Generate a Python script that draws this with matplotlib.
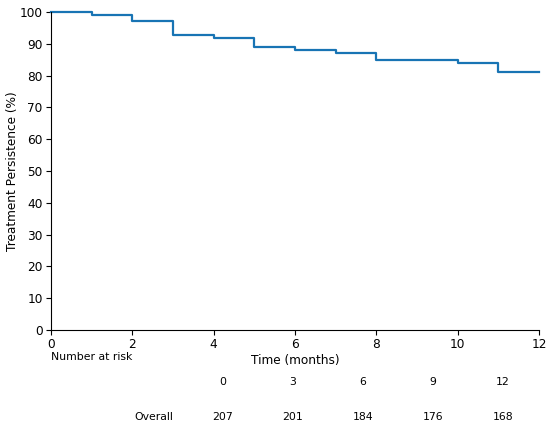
import matplotlib
matplotlib.use("Agg")
import matplotlib.pyplot as plt

# Kaplan-Meier step data
months = [0, 1, 2, 3, 4, 5, 6, 7, 8, 10, 11, 12]
persistence = [100, 99.2, 97.2, 92.9, 91.9, 88.9, 88.1, 87.1, 85.0, 84.0, 81.1, 81.1]

# number-at-risk table
risk_times = ["0", "3", "6", "9", "12"]
risk_overall = [207, 201, 184, 176, 168]
risk_label = "Overall"

fig = plt.figure(figsize=(5.5, 4.3), dpi=100)
ax = fig.add_axes([51 / 550, 1 - 330 / 430, (539 - 51) / 550, (330 - 12) / 430])

ax.plot(months, persistence, drawstyle="steps-post", color="#1874b4", lw=1.6, clip_on=False)

ax.set_xlim(0, 12)
ax.set_ylim(0, 100)
ax.set_xticks(range(0, 13, 2))
ax.set_yticks(range(0, 101, 10))
ax.spines["top"].set_visible(False)
ax.spines["right"].set_visible(False)
ax.tick_params(labelsize=8.7, pad=2.5)
ax.set_ylabel("Treatment Persistence (%)", fontsize=8.7, labelpad=0.5)
ax.set_xlabel("Time (months)", fontsize=8.7, labelpad=2)

# risk table below the axes
def fx(px):
    return px / 550

def fy(py):
    return 1 - py / 430

tfs = 7.8
fig.text(fx(51), fy(357), "Number at risk", fontsize=tfs, ha="left", va="center")
col_x = [223, 293, 363, 433, 503]
for x, t in zip(col_x, risk_times):
    fig.text(fx(x), fy(382), t, fontsize=tfs, ha="center", va="center")
fig.text(fx(154), fy(417), risk_label, fontsize=tfs, ha="center", va="center")
for x, n in zip(col_x, risk_overall):
    fig.text(fx(x), fy(417), str(n), fontsize=tfs, ha="center", va="center")

fig.savefig("out.png", dpi=100)
